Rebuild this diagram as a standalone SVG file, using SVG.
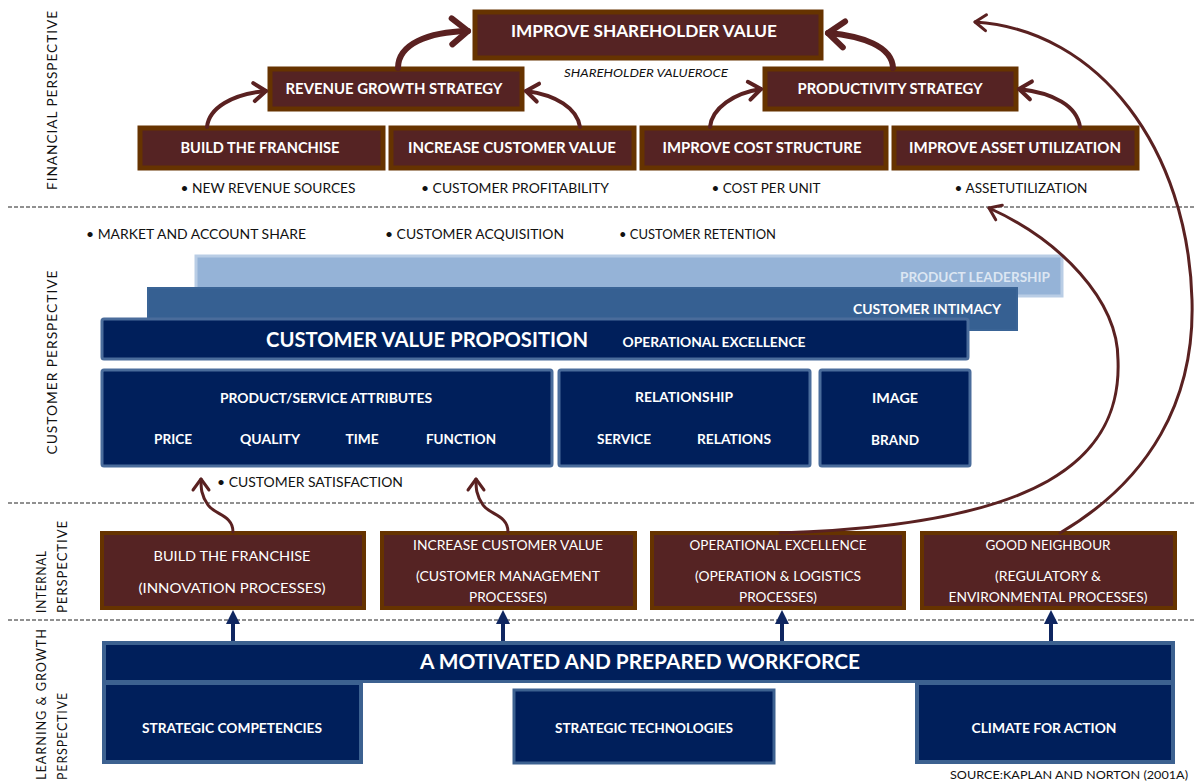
<svg xmlns="http://www.w3.org/2000/svg" width="1194" height="782" viewBox="0 0 1194 782">
<style>
text{font-family:Lato,"Open Sans","Liberation Sans",sans-serif}
.fin{fill:#552323;stroke:#663300;stroke-width:5}
.int{fill:#552323;stroke:#663300;stroke-width:4}
.navy{fill:#001f5b;stroke:#3c6190;stroke-width:3}
.wb{fill:#fff;font-weight:bold;text-anchor:middle}
.wr{fill:#fff;text-anchor:middle;font-size:14px}
.bl{fill:#111;font-size:13.5px}
.side{fill:#111;font-size:14px;letter-spacing:1px}
.dash{stroke:#222;stroke-width:1;stroke-dasharray:4 2}
.brn{fill:none;stroke:#5a2121;stroke-linecap:round}
</style>
<defs>
<marker id="ahBig" markerUnits="userSpaceOnUse" markerWidth="34" markerHeight="34" viewBox="0 0 34 34" refX="27" refY="17" orient="auto">
<path d="M11 4 L27 17 L11 30" fill="none" stroke="#5a2121" stroke-width="6" stroke-linecap="round" stroke-linejoin="round"/>
</marker>
<marker id="ahMed" markerUnits="userSpaceOnUse" markerWidth="26" markerHeight="26" viewBox="0 0 26 26" refX="21" refY="13" orient="auto">
<path d="M9 4 L21 13 L9 22" fill="none" stroke="#5a2121" stroke-width="4" stroke-linecap="round" stroke-linejoin="round"/>
</marker>
<marker id="ahThin" markerUnits="userSpaceOnUse" markerWidth="24" markerHeight="24" viewBox="0 0 24 24" refX="19" refY="12" orient="auto">
<path d="M8 4 L19 12 L8 20" fill="none" stroke="#5a2121" stroke-width="3" stroke-linecap="round" stroke-linejoin="round"/>
</marker>
</defs>
<rect width="1194" height="782" fill="#fff"/>

<g id="dividers">
<line class="dash" x1="8" y1="207" x2="1194" y2="207"/>
<line class="dash" x1="8" y1="503" x2="1194" y2="503"/>
<line class="dash" x1="8" y1="620" x2="1194" y2="620"/>
</g>

<g id="perspective-labels">
<text class="side" transform="translate(57,100) rotate(-90)" text-anchor="middle" textLength="180" lengthAdjust="spacingAndGlyphs">FINANCIAL PERSPECTIVE</text>
<text class="side" transform="translate(57,362) rotate(-90)" text-anchor="middle" textLength="185" lengthAdjust="spacingAndGlyphs">CUSTOMER PERSPECTIVE</text>
<text class="side" transform="translate(46,613) rotate(-90)" textLength="63" lengthAdjust="spacingAndGlyphs">INTERNAL</text>
<text class="side" transform="translate(67,613) rotate(-90)" textLength="93" lengthAdjust="spacingAndGlyphs">PERSPECTIVE</text>
<text class="side" transform="translate(46,780) rotate(-90)" textLength="152" lengthAdjust="spacingAndGlyphs">LEARNING &amp; GROWTH</text>
<text class="side" transform="translate(67,780) rotate(-90)" textLength="88" lengthAdjust="spacingAndGlyphs">PERSPECTIVE</text>
</g>

<!-- Financial -->
<g id="improve-shareholder-value">
<rect class="fin" x="475" y="12" width="346" height="46"/>
<text class="wb" x="644" y="37" font-size="17" textLength="266" lengthAdjust="spacingAndGlyphs">IMPROVE SHAREHOLDER VALUE</text>
</g>
<g id="revenue-growth-strategy">
<rect class="fin" x="270" y="69" width="252" height="40"/>
<text class="wb" x="394" y="94" font-size="14.5" textLength="217" lengthAdjust="spacingAndGlyphs">REVENUE GROWTH STRATEGY</text>
</g>
<g id="productivity-strategy">
<rect class="fin" x="765" y="69" width="251" height="40"/>
<text class="wb" x="890" y="94" font-size="14.5" textLength="185" lengthAdjust="spacingAndGlyphs">PRODUCTIVITY STRATEGY</text>
</g>
<text x="646" y="77" font-size="12" font-style="italic" fill="#111" text-anchor="middle" textLength="164" lengthAdjust="spacingAndGlyphs">SHAREHOLDER VALUEROCE</text>
<g id="fin-build-franchise">
<rect class="fin" x="140" y="128" width="243" height="40"/>
<text class="wb" x="260" y="153" font-size="14.5" textLength="159" lengthAdjust="spacingAndGlyphs">BUILD THE FRANCHISE</text>
<text class="bl" x="268" y="193" text-anchor="middle" textLength="175" lengthAdjust="spacingAndGlyphs">• NEW REVENUE  SOURCES</text>
</g>
<g id="fin-increase-customer-value">
<rect class="fin" x="391" y="128" width="243" height="40"/>
<text class="wb" x="512" y="153" font-size="14.5" textLength="208" lengthAdjust="spacingAndGlyphs">INCREASE CUSTOMER VALUE</text>
<text class="bl" x="515" y="193" text-anchor="middle" textLength="188" lengthAdjust="spacingAndGlyphs">• CUSTOMER  PROFITABILITY</text>
</g>
<g id="fin-improve-cost-structure">
<rect class="fin" x="642" y="128" width="244" height="40"/>
<text class="wb" x="762" y="153" font-size="14.5" textLength="199" lengthAdjust="spacingAndGlyphs">IMPROVE COST STRUCTURE</text>
<text class="bl" x="766" y="193" text-anchor="middle" textLength="109" lengthAdjust="spacingAndGlyphs">• COST PER UNIT</text>
</g>
<g id="fin-improve-asset-utilization">
<rect class="fin" x="894" y="128" width="243" height="40"/>
<text class="wb" x="1015" y="153" font-size="14.5" textLength="212" lengthAdjust="spacingAndGlyphs">IMPROVE ASSET UTILIZATION</text>
<text class="bl" x="1021" y="193" text-anchor="middle" textLength="133" lengthAdjust="spacingAndGlyphs">• ASSETUTILIZATION</text>
</g>

<!-- Customer -->
<g id="customer-bullets">
<text class="bl" x="86" y="239" textLength="220" lengthAdjust="spacingAndGlyphs">• MARKET AND  ACCOUNT SHARE</text>
<text class="bl" x="385" y="239" textLength="179" lengthAdjust="spacingAndGlyphs">• CUSTOMER  ACQUISITION</text>
<text class="bl" x="619" y="239" textLength="157" lengthAdjust="spacingAndGlyphs">• CUSTOMER RETENTION</text>
<text class="bl" x="217" y="487" textLength="186" lengthAdjust="spacingAndGlyphs">• CUSTOMER SATISFACTION</text>
</g>
<g id="product-leadership">
<rect x="196" y="256" width="866" height="40" fill="#95b3d7" stroke="#b9cde5" stroke-width="3"/>
<text class="wb" x="1050" y="282" font-size="13.5" fill="#dce6f2" style="fill:#dce6f2;text-anchor:end" textLength="150" lengthAdjust="spacingAndGlyphs">PRODUCT LEADERSHIP</text>
</g>
<g id="customer-intimacy">
<rect x="148" y="288" width="869" height="42" fill="#366092" stroke="#3a6496" stroke-width="2"/>
<text class="wb" x="1001" y="314" font-size="13.5" style="text-anchor:end" textLength="148" lengthAdjust="spacingAndGlyphs">CUSTOMER INTIMACY</text>
</g>
<g id="customer-value-proposition">
<rect x="102" y="319" width="866" height="40" rx="2" fill="#001f5b" stroke="#4a6c9b" stroke-width="3"/>
<text class="wb" x="427" y="347" font-size="21" textLength="322" lengthAdjust="spacingAndGlyphs">CUSTOMER VALUE PROPOSITION</text>
<text class="wb" x="714" y="347" font-size="13.5" textLength="183" lengthAdjust="spacingAndGlyphs">OPERATIONAL  EXCELLENCE</text>
</g>
<g id="product-service-attributes">
<rect x="102" y="370" width="450" height="96" rx="2" fill="#001f5b" stroke="#4a6c9b" stroke-width="3"/>
<text class="wb" x="326" y="403" font-size="13.5" textLength="212" lengthAdjust="spacingAndGlyphs">PRODUCT/SERVICE ATTRIBUTES</text>
<text class="wb" x="173" y="444" font-size="13.5" textLength="38" lengthAdjust="spacingAndGlyphs">PRICE</text>
<text class="wb" x="270" y="444" font-size="13.5" textLength="60" lengthAdjust="spacingAndGlyphs">QUALITY</text>
<text class="wb" x="362" y="444" font-size="13.5" textLength="33" lengthAdjust="spacingAndGlyphs">TIME</text>
<text class="wb" x="461" y="444" font-size="13.5" textLength="70" lengthAdjust="spacingAndGlyphs">FUNCTION</text>
</g>
<g id="relationship">
<rect x="559" y="370" width="251" height="96" rx="2" fill="#001f5b" stroke="#4a6c9b" stroke-width="3"/>
<text class="wb" x="684" y="402" font-size="13.5" textLength="98" lengthAdjust="spacingAndGlyphs">RELATIONSHIP</text>
<text class="wb" x="624" y="444" font-size="13.5" textLength="54" lengthAdjust="spacingAndGlyphs">SERVICE</text>
<text class="wb" x="734" y="444" font-size="13.5" textLength="74" lengthAdjust="spacingAndGlyphs">RELATIONS</text>
</g>
<g id="image">
<rect x="820" y="370" width="150" height="96" rx="2" fill="#001f5b" stroke="#4a6c9b" stroke-width="3"/>
<text class="wb" x="895" y="403" font-size="13.5" textLength="46" lengthAdjust="spacingAndGlyphs">IMAGE</text>
<text class="wb" x="895" y="445" font-size="13.5" textLength="48" lengthAdjust="spacingAndGlyphs">BRAND</text>
</g>

<!-- Internal -->
<g id="int-build-franchise">
<rect class="int" x="102" y="533" width="262" height="75"/>
<text class="wr" x="232" y="561" textLength="157" lengthAdjust="spacingAndGlyphs">BUILD THE FRANCHISE</text>
<text class="wr" x="232" y="593" textLength="187" lengthAdjust="spacingAndGlyphs">(INNOVATION PROCESSES)</text>
</g>
<g id="int-increase-customer-value">
<rect class="int" x="382" y="533" width="253" height="75"/>
<text class="wr" x="508" y="550" textLength="190" lengthAdjust="spacingAndGlyphs">INCREASE CUSTOMER VALUE</text>
<text class="wr" x="508" y="581" textLength="184" lengthAdjust="spacingAndGlyphs">(CUSTOMER MANAGEMENT</text>
<text class="wr" x="508" y="602" textLength="78" lengthAdjust="spacingAndGlyphs">PROCESSES)</text>
</g>
<g id="int-operational-excellence">
<rect class="int" x="652" y="533" width="252" height="75"/>
<text class="wr" x="778" y="550" textLength="177" lengthAdjust="spacingAndGlyphs">OPERATIONAL EXCELLENCE</text>
<text class="wr" x="778" y="581" textLength="166" lengthAdjust="spacingAndGlyphs">(OPERATION &amp; LOGISTICS</text>
<text class="wr" x="778" y="602" textLength="78" lengthAdjust="spacingAndGlyphs">PROCESSES)</text>
</g>
<g id="int-good-neighbour">
<rect class="int" x="922" y="533" width="253" height="75"/>
<text class="wr" x="1048" y="550" textLength="125" lengthAdjust="spacingAndGlyphs">GOOD NEIGHBOUR</text>
<text class="wr" x="1048" y="581" textLength="106" lengthAdjust="spacingAndGlyphs">(REGULATORY &amp;</text>
<text class="wr" x="1048" y="602" textLength="199" lengthAdjust="spacingAndGlyphs">ENVIRONMENTAL PROCESSES)</text>
</g>

<!-- Learning & growth -->
<g id="motivated-workforce">
<path d="M102 641 H1175 V764 H915 V683 H363 V764 H102 Z" fill="#3c6190"/>
<rect x="106" y="645" width="1065" height="35" fill="#001f5b"/>
<text class="wb" x="640" y="669" font-size="20" textLength="440" lengthAdjust="spacingAndGlyphs">A MOTIVATED AND PREPARED WORKFORCE</text>
</g>
<g id="strategic-competencies">
<rect x="106" y="685" width="253" height="75" fill="#001f5b"/>
<text class="wb" x="232" y="733" font-size="13.5" textLength="180" lengthAdjust="spacingAndGlyphs">STRATEGIC COMPETENCIES</text>
</g>
<g id="strategic-technologies">
<rect class="navy" x="514" y="690" width="260" height="73"/>
<text class="wb" x="644" y="733" font-size="13.5" textLength="178" lengthAdjust="spacingAndGlyphs">STRATEGIC TECHNOLOGIES</text>
</g>
<g id="climate-for-action">
<rect x="919" y="685" width="252" height="75" fill="#001f5b"/>
<text class="wb" x="1044" y="733" font-size="13.5" textLength="145" lengthAdjust="spacingAndGlyphs">CLIMATE FOR ACTION</text>
</g>

<text x="1188" y="779" font-size="12" fill="#111" text-anchor="end" textLength="238" lengthAdjust="spacingAndGlyphs">SOURCE:KAPLAN AND NORTON (2001A)</text>

<g id="connectors">
<path class="brn" stroke-width="6" d="M398 68 C398 44 428 32 468 31" marker-end="url(#ahBig)"/>
<path class="brn" stroke-width="6" d="M893 68 C892 46 862 36 828 33" marker-end="url(#ahBig)"/>
<path class="brn" stroke-width="4" d="M207 127 C209 108 232 94 266 91" marker-end="url(#ahMed)"/>
<path class="brn" stroke-width="4" d="M580 127 C577 108 556 95 526 91" marker-end="url(#ahMed)"/>
<path class="brn" stroke-width="4" d="M710 127 C712 108 734 93 761 89" marker-end="url(#ahMed)"/>
<path class="brn" stroke-width="4" d="M1080 127 C1077 106 1054 93 1019 89" marker-end="url(#ahMed)"/>
<path class="brn" stroke-width="3" d="M233 532 C233 515 215 515 208 505 C201 495 201 488 201 479" marker-end="url(#ahThin)"/>
<path class="brn" stroke-width="3" d="M508 532 C508 515 490 515 483 505 C476 495 476 488 476 479" marker-end="url(#ahThin)"/>
<path class="brn" stroke-width="3" d="M780 533 C1040 525 1122 460 1118 360 C1118 300 1060 240 989 208" marker-end="url(#ahThin)"/>
<path class="brn" stroke-width="3" d="M1060 533 C1150 480 1195 400 1192 300 C1188 150 1100 30 975 22" marker-end="url(#ahThin)"/>
<g fill="#0f2660" stroke="#0f2660">
<line x1="233" y1="641" x2="233" y2="622" stroke-width="4"/>
<polygon points="233,610 226,624 240,624" stroke="none"/>
<line x1="503" y1="641" x2="503" y2="622" stroke-width="4"/>
<polygon points="503,610 496,624 510,624" stroke="none"/>
<line x1="782" y1="641" x2="782" y2="622" stroke-width="4"/>
<polygon points="782,610 775,624 789,624" stroke="none"/>
<line x1="1051" y1="641" x2="1051" y2="622" stroke-width="4"/>
<polygon points="1051,610 1044,624 1058,624" stroke="none"/>
</g>
</g>
</svg>
